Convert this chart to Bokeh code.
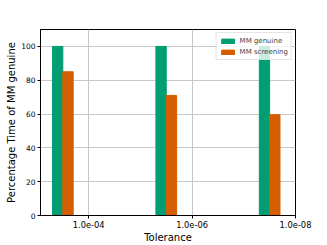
import numpy as np
from bokeh.plotting import figure
from bokeh.models import Range1d, FixedTicker, Legend, LegendItem
from bokeh.embed import file_html
from bokeh.resources import INLINE

tolerances = ["1.0e-04", "1.0e-06", "1.0e-08"]
mm_genuine = [100, 100, 100]
mm_screening = [85, 71, 59.6]

green = "#029E73"
orange = "#D55E00"
font = "DejaVu Sans"

idx = np.arange(len(tolerances))

p = figure(width=327, height=245, output_backend="svg", toolbar_location=None,
           x_range=Range1d(-0.466, 2.0), y_range=Range1d(0, 110),
           min_border_left=40, min_border_right=32, min_border_top=29, min_border_bottom=27)

r1 = p.vbar(x=idx - 0.3, top=mm_genuine, width=0.1, fill_color=green, line_color=green)
r2 = p.vbar(x=idx - 0.2, top=mm_screening, width=0.1, fill_color=orange, line_color=orange)

p.xaxis.ticker = FixedTicker(ticks=list(idx))
p.xaxis.major_label_overrides = {int(i): t for i, t in zip(idx, tolerances)}
p.yaxis.ticker = FixedTicker(ticks=[0, 20, 40, 60, 80, 100])

for ax in (p.xaxis, p.yaxis):
    ax.axis_line_color = "black"
    ax.major_tick_line_color = "black"
    ax.major_tick_in = 0
    ax.major_tick_out = 3
    ax.minor_tick_line_color = None
    ax.major_label_text_font = font
    ax.axis_label_text_font = font
    ax.axis_label_text_font_style = "normal"
    ax.axis_label_text_color = "black"
    ax.major_label_text_color = "black"
    ax.major_label_standoff = 2
    ax.axis_label_standoff = 1

p.xaxis.major_label_text_font_size = "8.3px"
p.yaxis.major_label_text_font_size = "7.5px"
p.xaxis.axis_label = "Tolerance"
p.yaxis.axis_label = "Percentage Time of MM genuine"
p.xaxis.axis_label_text_font_size = "10px"
p.yaxis.axis_label_text_font_size = "10px"

p.grid.grid_line_color = "#c8c8c8"
p.grid.grid_line_width = 1
p.outline_line_color = "black"
p.outline_line_width = 1
p.background_fill_color = "white"
p.border_fill_color = "white"

legend = Legend(items=[LegendItem(label="MM genuine", renderers=[r1]),
                       LegendItem(label="MM screening", renderers=[r2])],
                location="top_right")
legend.label_text_font = font
legend.label_text_font_size = "7px"
legend.label_height = 9
legend.glyph_height = 6
legend.glyph_width = 16
legend.spacing = 2
legend.padding = 3
legend.margin = 3
legend.label_standoff = 4
legend.border_line_color = "#cccccc"
legend.background_fill_alpha = 0.8
p.add_layout(legend)

open("out.html", "w").write(file_html(p, INLINE))
